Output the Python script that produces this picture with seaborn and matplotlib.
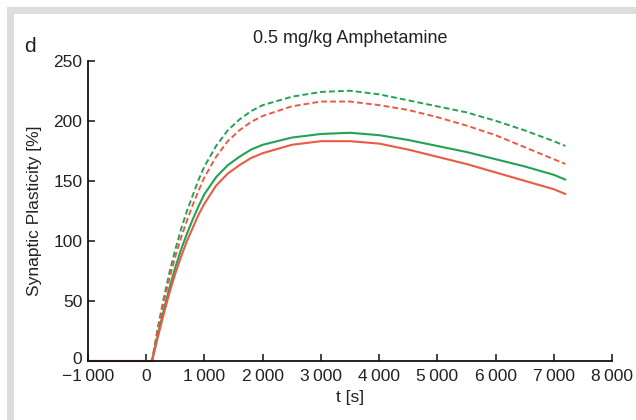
import matplotlib
matplotlib.use("Agg")
import matplotlib.pyplot as plt
import matplotlib.ticker as mticker
import matplotlib.transforms as mtransforms
from matplotlib.patches import Rectangle
import pandas as pd
import seaborn as sns

# time points [s]
t = [-1000, 0, 100, 200, 300, 400, 500, 600, 700, 800, 900, 1000, 1200, 1400,
     1600, 1800, 2000, 2500, 3000, 3500, 4000, 4500, 5000, 5500, 6000, 6500,
     7000, 7200]

# synaptic plasticity [%]
green_dashed = [0, 0, 0, 28, 52, 74, 93, 110, 125, 138, 151, 162, 179, 192,
                201, 208, 213, 220, 224, 225, 222, 217, 212, 207, 200, 192,
                183, 179]
red_dashed = [0, 0, 0, 26, 49, 69, 87, 103, 117, 130, 142, 153, 170, 183,
              192, 199, 204, 212, 216, 216, 213, 209, 203, 196, 188, 178,
              168, 164]
green_solid = [0, 0, 0, 22, 42, 61, 78, 93, 106, 118, 129, 139, 153, 163,
               170, 176, 180, 186, 189, 190, 188, 184, 179, 174, 168, 162,
               155, 151]
red_solid = [0, 0, 0, 20, 39, 57, 73, 87, 100, 111, 122, 131, 146, 156,
             163, 169, 173, 180, 183, 183, 181, 176, 170, 164, 157, 150,
             143, 139]

GREEN = "#23a254"
RED = "#ea5a44"
TXT = "#222222"

df = pd.DataFrame({"t": t, "gd": green_dashed, "rd": red_dashed,
                   "gs": green_solid, "rs": red_solid})

sns.set_theme(style="ticks")
plt.rcParams["font.family"] = ["Liberation Sans", "DejaVu Sans"]

fig = plt.figure(figsize=(6.36, 4.2), dpi=100)
# grey frame strip on top and left
fig.patches.append(Rectangle((7 / 636, 0), 7 / 636, 1 - 7 / 420, transform=fig.transFigure,
                             facecolor="#dcdddf", edgecolor="none", zorder=0))
fig.patches.append(Rectangle((7 / 636, 1 - 14 / 420), 1, 7 / 420, transform=fig.transFigure,
                             facecolor="#dcdddf", edgecolor="none", zorder=0))

ax = fig.add_axes([88 / 636, 1 - 361 / 420, 524 / 636, 300.3 / 420])
ax.patch.set_alpha(0)

dash = (0, (3, 1.6))
sns.lineplot(data=df, x="t", y="gd", ax=ax, color=GREEN, lw=1.4, linestyle=dash)
sns.lineplot(data=df, x="t", y="rd", ax=ax, color=RED, lw=1.4, linestyle=dash)
sns.lineplot(data=df, x="t", y="gs", ax=ax, color=GREEN, lw=1.5)
sns.lineplot(data=df, x="t", y="rs", ax=ax, color=RED, lw=1.5)
for ln in ax.lines:
    ln.set_clip_on(False)

ax.set_xlim(-1000, 8000)
ax.set_ylim(0, 250)
ax.set_xticks(range(-1000, 8001, 1000))
ax.set_yticks(range(0, 251, 50))


def fmt(v, pos):
    s = f"{abs(int(v)):,}".replace(",", "\u2009")
    return ("\u2212" if v < 0 else "") + s


ax.xaxis.set_major_formatter(mticker.FuncFormatter(fmt))
ax.tick_params(direction="in", length=5, width=1.2, labelsize=12.5, colors=TXT)
ax.tick_params(axis="x", pad=6)
ax.tick_params(axis="y", pad=4)
for s in ["top", "right"]:
    ax.spines[s].set_visible(False)
for s in ["left", "bottom"]:
    ax.spines[s].set_linewidth(1.3)
    ax.spines[s].set_color("#111111")

# lift the "0" label a little so it sits above the -1000 label
fig.canvas.draw()
zero_lbl = ax.get_yticklabels()[0]
zero_lbl.set_transform(zero_lbl.get_transform()
                       + mtransforms.ScaledTranslation(0, 3 / 100, fig.dpi_scale_trans))

ax.set_xlabel("t [s]", fontsize=12.5, color=TXT, labelpad=4)
ax.set_ylabel("Synaptic Plasticity [%]", fontsize=12.5, color=TXT, labelpad=8)
ax.set_title("0.5 mg/kg Amphetamine", fontsize=13, color=TXT, pad=13)
fig.text(30 / 636, 1 - 46 / 420, "d", fontsize=15, color=TXT, ha="center", va="center")

fig.savefig("out.png", dpi=100, facecolor="white")
